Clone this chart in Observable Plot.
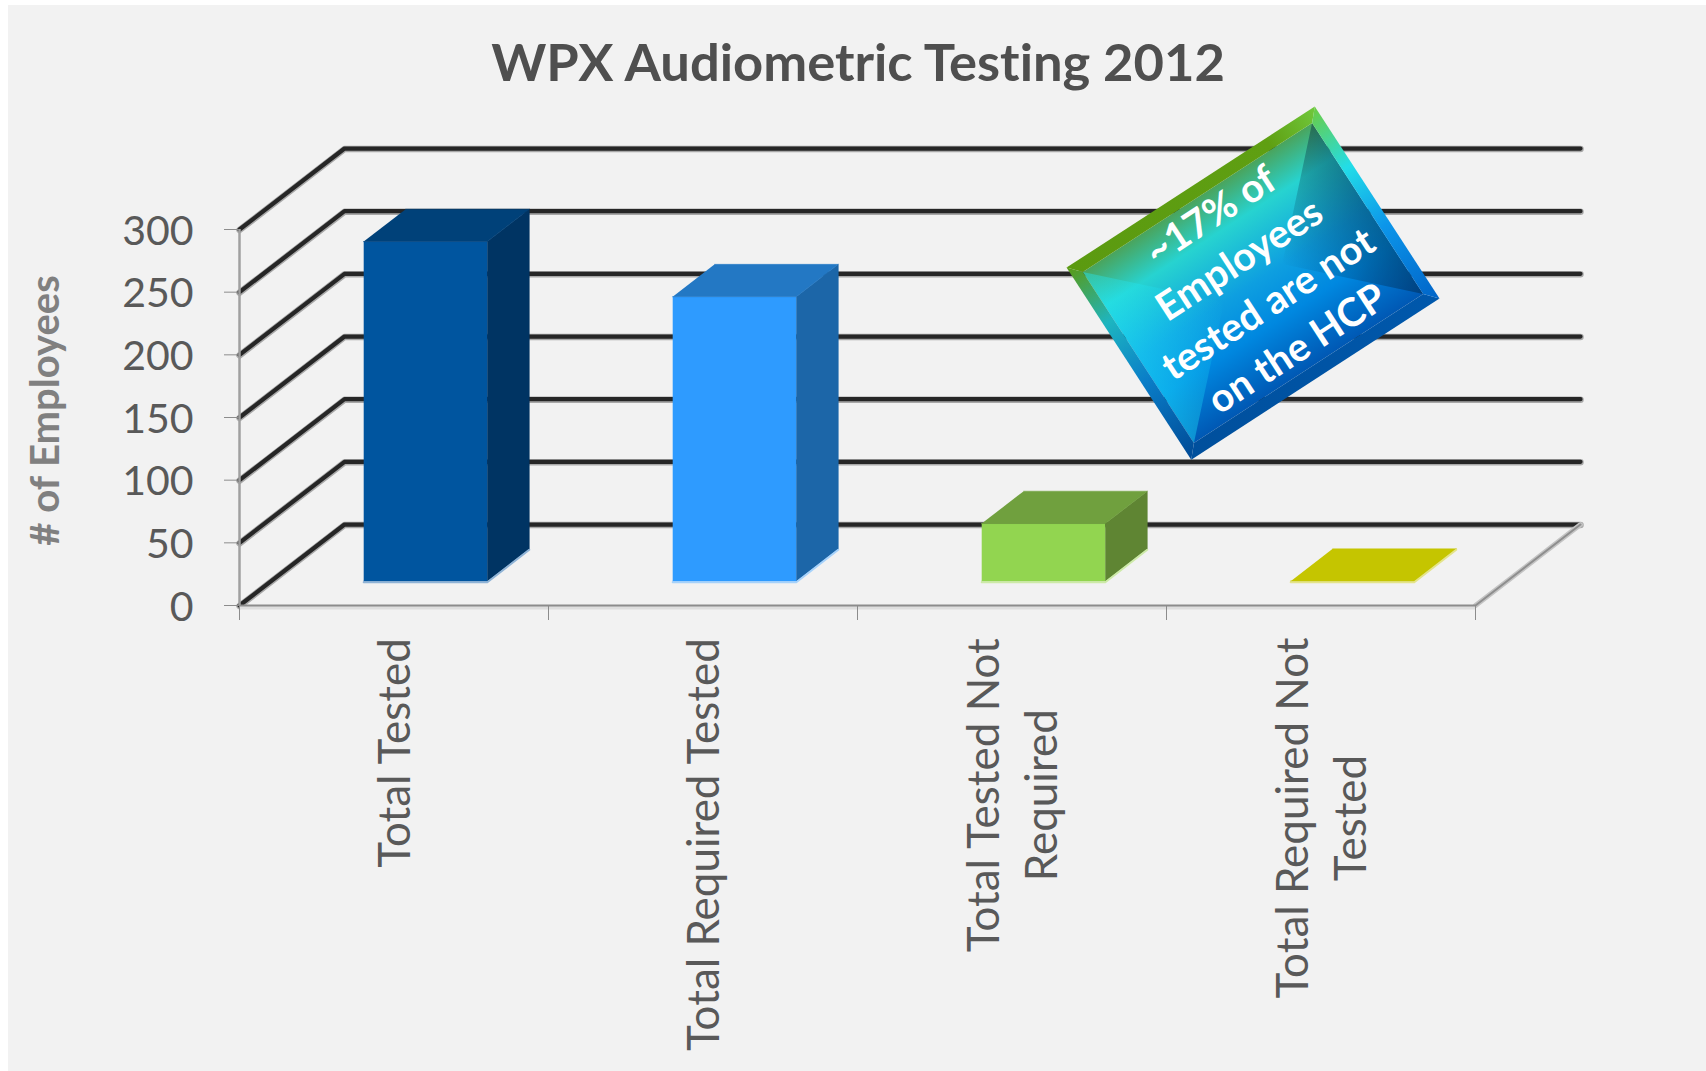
<!DOCTYPE html>
<html>
<head>
<meta charset="utf-8">
<script src="https://cdn.jsdelivr.net/npm/d3@7"></script>
<script src="https://cdn.jsdelivr.net/npm/@observablehq/plot@0.6"></script>
<style>
html,body{margin:0;padding:0;background:#fff;width:1706px;height:1071px;overflow:hidden}
#panel{position:absolute;left:8px;top:5px;right:0;bottom:0;background:#f2f2f2}
#chart{position:absolute;left:0;top:0;width:1706px;height:1071px}
h1{margin:0;height:100px;box-sizing:border-box;padding:33px 0 0 10px;text-align:center;font:bold 52.5px/56px Lato,sans-serif;color:#4f4f4f;font-variant-ligatures:none}
svg{display:block;background:transparent!important;font-variant-ligatures:none}
</style>
</head>
<body>
<div id="panel"></div>
<div id="chart"></div>
<script>
const chartTitle = "WPX Audiometric Testing 2012";
const yTitle = "# of Employees";
const categories = ["Total Tested", "Total Required Tested", "Total Tested Not\nRequired", "Total Required Not\nTested"];
const employees = [271, 227, 46, 0];
const yTicks = [0, 50, 100, 150, 200, 250, 300];
const xTicks = [0, 1, 2, 3, 4];
const frontColors = ["#00559f", "#2e9bff", "#92d550", "#c5c500"];
const sideColors = ["#003463", "#1c66a8", "#5f8533", "#c5c500"];
const topColors = ["#004179", "#2378c4", "#70a03e", "#c5c500"];
const edgeColors = ["#8fb3d6", "#a6d2fb", "#cdeaa8", "#e4e48a"];
const calloutLines = ["~17% of", "Employees", "tested are not", "on the HCP"];

// Oblique projection of the 3-D chart expressed in the chart's own data units
const DEPTH_X = 105 / 309, DEPTH_Y = 64.6;
const px = (u, d) => u + d * DEPTH_X;
const py = (v, d) => v + d * DEPTH_Y;
const BAR_LO = 0.3, BAR_HI = 0.7;

const faces = [];
const edges = [];
function face(id, color, pts) {
  pts.forEach(([u, v, d]) => faces.push({id, color, x: px(u, d), y: py(v, d)}));
}
employees.forEach((v, i) => {
  const a = i + BAR_LO, b = i + BAR_HI;
  face(`front${i}`, frontColors[i], [[a,0,BAR_LO],[b,0,BAR_LO],[b,v,BAR_LO],[a,v,BAR_LO]]);
  face(`side${i}`, sideColors[i], [[b,0,BAR_LO],[b,0,BAR_HI],[b,v,BAR_HI],[b,v,BAR_LO]]);
  face(`top${i}`, topColors[i], [[a,v,BAR_LO],[b,v,BAR_LO],[b,v,BAR_HI],[a,v,BAR_HI]]);
  [[a,0,BAR_LO],[b,0,BAR_LO],[b,0,BAR_HI]].forEach(([u,w,d]) =>
    edges.push({id:i, color:edgeColors[i], x:px(u,d), y:py(w,d)}));
});

const grid = [];
yTicks.forEach(v => {
  [[0,0],[0,1],[4,1]].forEach(([u,d]) => grid.push({v, x:px(u,d), y:py(v,d)}));
});
const floorRight = [[4,0],[4,1]].map(([u,d]) => ({x:px(u,d), y:py(0,d)}));

// x-axis labels: top end of the longest line aligned, lines centred
const LABEL_SIZE = 44;
const measure = document.createElement("canvas").getContext("2d");
measure.font = `${LABEL_SIZE}px Lato`;
const labelTopValue = -25.5;   // just below the axis, in y units
const labels = categories.map((text, i) => {
  const w = Math.max(...text.split("\n").map(s => measure.measureText(s).width));
  return {text, x: i + 0.5, y: labelTopValue - (w / 2) / 1.2533};
});

// Callout anchored in data space, geometry local to its rotated frame
const CALL_X = 3.2816, CALL_Y = 256.9, CALL_ROT = -33;
const callout = (index, scales) => {
  const cx = scales.x(CALL_X), cy = scales.y(CALL_Y);
  const g = d3.create("svg:g").attr("transform", `translate(${cx},${cy}) rotate(${CALL_ROT})`);
  const W = 148, H = 114.5, w = 136.7, h = 102;
  const defs = g.append("defs");
  const grad = (id, x1, y1, x2, y2, stops) => {
    const l = defs.append("linearGradient").attr("id", id).attr("gradientUnits", "userSpaceOnUse")
      .attr("x1", x1).attr("y1", y1).attr("x2", x2).attr("y2", y2);
    stops.forEach(([o, c, a]) => l.append("stop").attr("offset", o).attr("stop-color", c).attr("stop-opacity", a ?? 1));
  };
  grad("gBase", 0, -h, 0, h, [[0,"#4aa45c"],[.2,"#27d3d0"],[.5,"#0e9fe0"],[.72,"#0088e0"],[1,"#0058b4"]]);
  grad("gTop", -W, 0, W, 0, [[0,"#5b9a10"],[.8,"#5f9f12"],[1,"#70c83c"]]);
  grad("gLeft", 0, -H, 0, H, [[0,"#5b9a12"],[.3,"#1db5c0"],[.6,"#0a7ec8"],[1,"#004a96"]]);
  grad("gRight", 0, -H, 0, H, [[0,"#6ccc40"],[.3,"#22dde8"],[.6,"#0c96ea"],[1,"#0064c8"]]);
  grad("gBottom", -W, 0, W, 0, [[0,"#004f9c"],[1,"#0058ac"]]);
  grad("gBright", -w, 0, -w + h, 0, [[0,"#20ecff",.4],[1,"#20ecff",0]]);
  grad("gDark", w, 0, w - h, 0, [[0,"#00203a",.42],[1,"#00203a",0]]);
  const poly = (pts, fill) => g.append("polygon").attr("points", pts.map(p => p.join(",")).join(" ")).attr("fill", fill);
  poly([[-w,-h],[w,-h],[w,h],[-w,h]], "url(#gBase)");
  poly([[-w,-h],[-w,h],[-w+h,0]], "url(#gBright)");
  poly([[w,-h],[w,h],[w-h,0]], "url(#gDark)");
  poly([[-W,-H],[W,-H],[w,-h],[-w,-h]], "url(#gTop)");
  poly([[-W,H],[W,H],[w,h],[-w,h]], "url(#gBottom)");
  poly([[-W,-H],[-w,-h],[-w,h],[-W,H]], "url(#gLeft)");
  poly([[W,-H],[w,-h],[w,h],[W,H]], "url(#gRight)");
  return g.node();
};
// Callout text lines, placed along the callout's rotated vertical axis
const rad = CALL_ROT * Math.PI / 180;
const callText = calloutLines.map((text, i) => {
  const v = -80 + i * 53, u = 1;
  return {text,
    x: CALL_X + (u * Math.cos(rad) - v * Math.sin(rad)) / 309,
    y: CALL_Y - (u * Math.sin(rad) + v * Math.cos(rad)) / 1.2533};
});

const title = document.createElement("h1");
title.textContent = chartTitle;

const TITLE_H = 100;
const plot = Plot.plot({
  width: 1706, height: 1071 - TITLE_H,
  marginLeft: 239, marginRight: 231, marginTop: 229 - TITLE_H, marginBottom: 466,
  style: {background: "transparent", fontFamily: "Lato, sans-serif"},
  x: {type: "linear", domain: [0, 4], axis: null},
  y: {type: "linear", domain: [0, 300], axis: null},
  marks: [
    // grid walls
    Plot.line(grid, {x: "x", y: "y", z: "v", stroke: "#a8a8a8", strokeWidth: 6.5, dy: 0.5}),
    Plot.line(grid, {x: "x", y: "y", z: "v", stroke: "#262626", strokeWidth: 4.2}),
    Plot.line(floorRight, {x: "x", y: "y", stroke: "#c4c4c4", strokeWidth: 5}),
    Plot.line(floorRight, {x: "x", y: "y", stroke: "#8e8e8e", strokeWidth: 2}),
    // axes
    Plot.ruleY([0], {x1: 0, x2: 4, stroke: "#dedede", strokeWidth: 4, dy: 2}),
    Plot.ruleY([0], {x1: 0, x2: 4, stroke: "#8c8c8c", strokeWidth: 2}),
    Plot.ruleX([0], {y1: 0, y2: 300, stroke: "#a0a0a0", strokeWidth: 2.5}),
    Plot.axisY({ticks: yTicks, tickSize: 15, tickFormat: () => "", stroke: "#8c8c8c", label: null, anchor: "left"}),
    Plot.axisY({ticks: yTicks, tickSize: 0, tickPadding: 46, dy: 2, fontSize: 41, fill: "#595959", label: null, anchor: "left", textStroke: "none"}),
    Plot.axisX({ticks: xTicks, tickSize: 15, tickFormat: () => "", stroke: "#8c8c8c", label: null, anchor: "bottom"}),
    Plot.text([yTitle], {text: d => d, x: -0.625, y: 155.6, rotate: -90, fontSize: 40, fontWeight: "bold", fill: "#808080"}),
    // bars
    Plot.line(faces, {x: "x", y: "y", z: "id", fill: {value: "color", scale: null}, stroke: {value: "color", scale: null}, strokeWidth: 0.5}),
    Plot.line(edges, {x: "x", y: "y", z: "id", stroke: {value: "color", scale: null}, strokeWidth: 2, dy: 1}),
    // category labels
    Plot.text(labels, {x: "x", y: "y", dx: -3, text: "text", rotate: -90, fontSize: LABEL_SIZE, lineHeight: 58 / LABEL_SIZE, fill: "#595959", textAnchor: "middle", lineAnchor: "middle"}),
    // callout
    callout,
    Plot.text(callText, {x: "x", y: "y", text: "text", rotate: CALL_ROT, fontSize: 39.5, fontWeight: "bold", fill: "#ffffff"})
  ]
});
const chart = document.getElementById("chart");
chart.append(title, plot);
</script>
</body>
</html>
